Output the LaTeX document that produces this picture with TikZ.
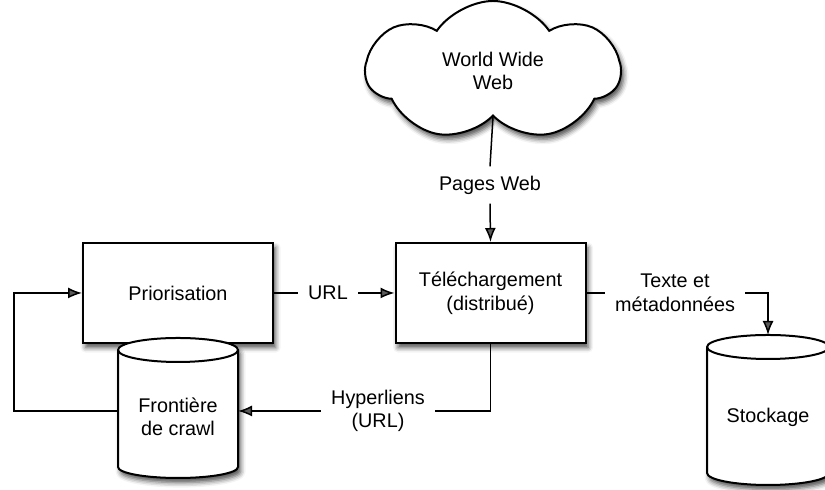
\documentclass[tikz,border=0pt]{standalone}
\usepackage{fontspec}
\setmainfont{Liberation Sans}
\usetikzlibrary{arrows.meta,shapes.symbols,shadows.blur}
\begin{document}
\begin{tikzpicture}[x=0.5pt,y=0.5pt,
  font=\fontsize{9.9}{11.8}\selectfont,
  shad/.style={blur shadow={shadow xshift=1.3pt,shadow yshift=-2.3pt,shadow blur radius=2.5pt,shadow opacity=70}},
  boxnode/.style={draw,line width=1pt,fill=white,shad,minimum width=95pt,minimum height=50pt,align=center,inner sep=0pt},
  lbl/.style={align=center,inner xsep=5pt,inner ysep=4.5pt},
  conn/.style={line width=0.75pt},
  arr/.style={conn,-{Latex[length=7pt,width=5.5pt]}},
  cylline/.style={line width=1pt}]
\useasboundingbox (0,0) rectangle (825,490);

% cloud
\node[cloud,cloud puffs=7,cloud puff arc=112,cloud ignores aspect,draw,line width=1pt,fill=white,shad,
      minimum width=127pt,minimum height=70pt,align=center,inner sep=0pt] (www) at (493,419) {World Wide\\Web};

% boxes
\node[boxnode] (prio) at (178,197) {Priorisation};
\node[boxnode] (tele) at (490.5,197) {Téléchargement\\(distribué)};

% Frontiere cylinder
\draw[cylline,fill=white,shad] (118,140) -- (118,23)
  arc[start angle=180,end angle=360,x radius=30pt,y radius=5.5pt] -- (238,140)
  arc[start angle=0,end angle=180,x radius=30pt,y radius=6pt] -- cycle;
\draw[cylline] (118,140) arc[start angle=180,end angle=360,x radius=30pt,y radius=6pt];
\node[align=center] (front) at (178,73) {Frontière\\de crawl};
\coordinate (frontE) at (238,79);
\coordinate (frontW) at (118,79);

% Stockage cylinder
\draw[cylline,fill=white,shad] (707,143) -- (707,17)
  arc[start angle=180,end angle=360,x radius=30.5pt,y radius=6pt] -- (829,143)
  arc[start angle=0,end angle=180,x radius=30.5pt,y radius=6pt] -- cycle;
\draw[cylline] (707,143) arc[start angle=180,end angle=360,x radius=30.5pt,y radius=6pt];
\node (stock) at (768,73) {Stockage};
\coordinate (stockTop) at (768,155);

% labels
\node[lbl] (pw) at (490,305) {Pages Web};
\node[lbl] (url) at (328,197) {URL};
\node[lbl] (hyp) at (378,79) {Hyperliens\\(URL)};
\node[lbl] (tem) at (675,197) {Texte et\\métadonnées};

% connectors
\draw[conn] (www.south) -- (pw.north);
\draw[arr] (pw.south) -- (tele.north);
\draw[conn] (prio.east) -- (url.west);
\draw[arr] (url.east) -- (tele.west);
\draw[conn] (tele.south) |- (hyp.east);
\draw[arr] (hyp.west) -- (frontE);
\draw[arr] (frontW) -- ++(-104,0) |- (prio.west);
\draw[conn] (tele.east) -- (tem.west);
\draw[arr] (tem.east) -| (stockTop);
\end{tikzpicture}
\end{document}
